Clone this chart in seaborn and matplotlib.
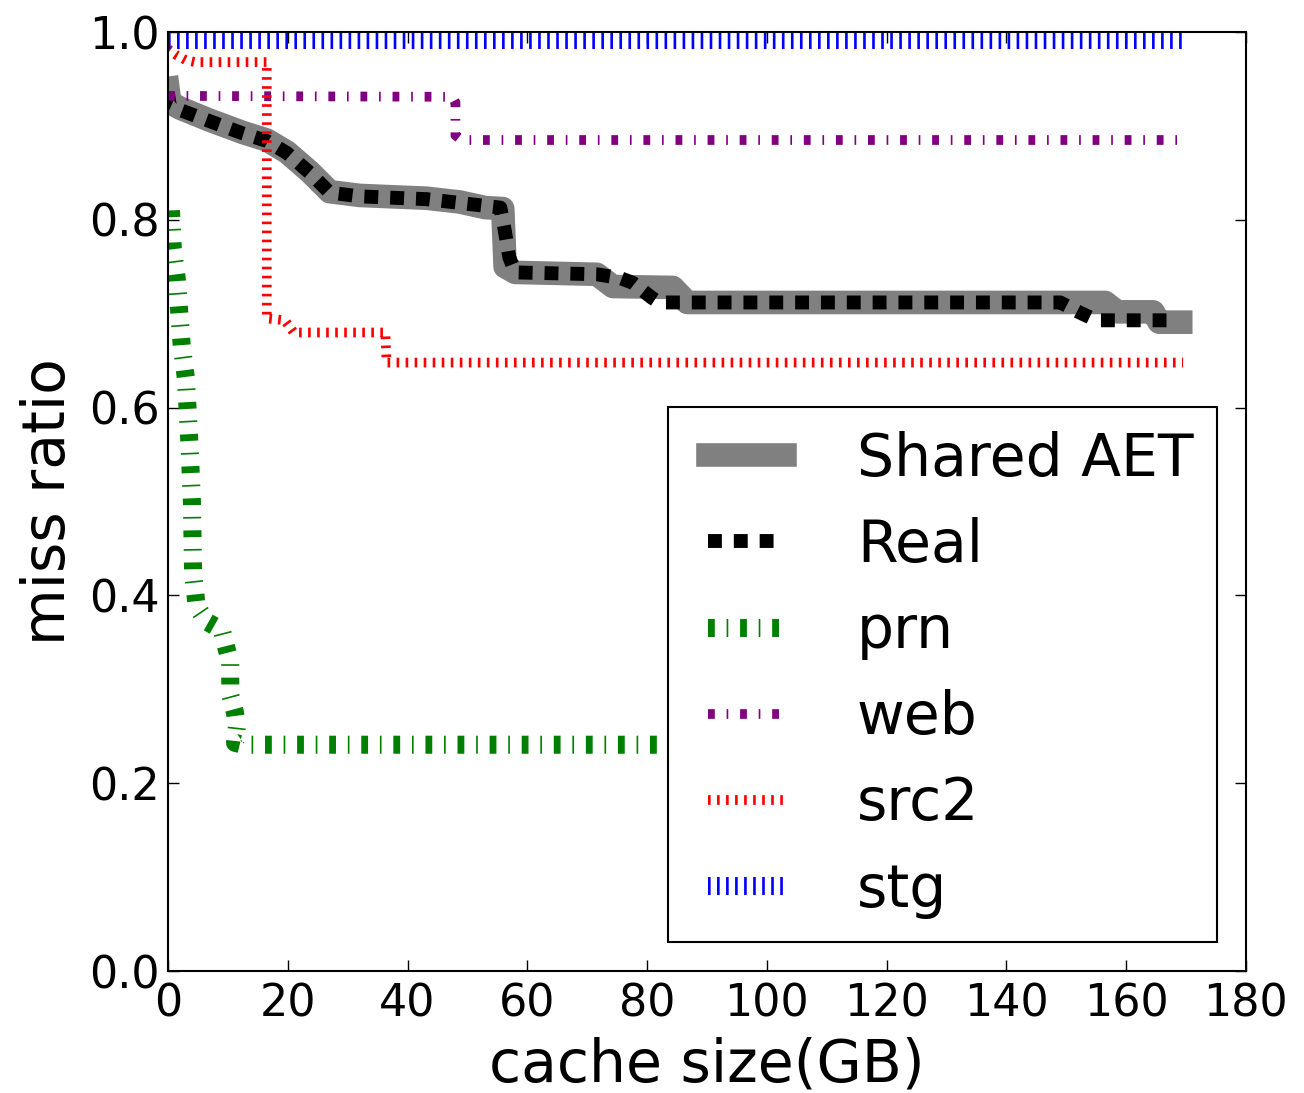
import matplotlib
matplotlib.use("Agg")
import matplotlib.pyplot as plt
import seaborn as sns
import pandas as pd
from matplotlib.lines import Line2D
from matplotlib.legend_handler import HandlerLine2D

# ---- data ----
shared_x = [0, 0.3, 2.0, 7.0, 12.5, 16.5, 19.9, 23.7, 27.0, 32.0, 43.2, 48.7, 53.0, 55.9, 56.3,
            58.0, 71.6, 74.3, 84.3, 86.7, 156.5, 158.5, 164.5, 165.5, 169.1]
shared_y = [0.940, 0.925, 0.919, 0.906, 0.893, 0.885, 0.872, 0.851, 0.830, 0.826, 0.823, 0.819, 0.813, 0.812, 0.750,
            0.744, 0.742, 0.729, 0.728, 0.712, 0.712, 0.702, 0.702, 0.691, 0.691]

real_x = [0, 0.3, 2, 7, 12.5, 16.5, 19.9, 23.7, 27, 32, 43.2, 48.7, 55.5, 56.2, 57, 58,
          71.6, 75.5, 77.6, 80.8, 82, 149, 152, 155, 168]
real_y = [0.935, 0.922, 0.917, 0.905, 0.892, 0.884, 0.871, 0.850, 0.829, 0.825, 0.822, 0.818, 0.813, 0.790, 0.760, 0.744,
          0.742, 0.738, 0.733, 0.717, 0.712, 0.712, 0.702, 0.693, 0.693]

prn_x = [0.5, 0.8, 1.5, 1.9, 2.3, 3.0, 3.6, 4.0, 4.2, 4.8, 6.5, 9.0, 10.4, 10.4, 11.2, 11.5, 11.2, 12.5, 170]
prn_y = [0.810, 0.770, 0.736, 0.700, 0.666, 0.631, 0.560, 0.500, 0.424, 0.388, 0.372, 0.363, 0.328, 0.294, 0.275,
         0.260, 0.243, 0.241, 0.241]

web_x = [0, 47.5, 48, 48, 49, 168.5]
web_y = [0.932, 0.931, 0.925, 0.890, 0.885, 0.885]

src2_x = [0, 1.5, 3, 4.5, 16.5, 16.5, 19.5, 21, 36.3, 36.5, 169.5]
src2_y = [0.982, 0.975, 0.970, 0.968, 0.968, 0.695, 0.693, 0.680, 0.680, 0.648, 0.648]

stg_x = [0, 169.5]
stg_y = [0.991, 0.991]

labels = ["Shared AET", "Real", "prn", "web", "src2", "stg"]
xticks = [0, 20, 40, 60, 80, 100, 120, 140, 160, 180]
yticks = [0.0, 0.2, 0.4, 0.6, 0.8, 1.0]

sns.set_theme(style="white")
plt.rcParams["font.family"] = ["DejaVu Sans"]
plt.rcParams["lines.scale_dashes"] = False
for k in ["text.color", "axes.labelcolor", "xtick.color", "ytick.color", "axes.edgecolor"]:
    plt.rcParams[k] = "black"

fig = plt.figure(figsize=(13.04, 10.93), dpi=100)
ax = fig.add_axes([0.1288, 0.1116, 0.9555 - 0.1288, 0.9707 - 0.1116])

series = [
    (shared_x, shared_y, dict(color="#808080", linewidth=17, linestyle="-",
                              solid_capstyle="projecting", solid_joinstyle="round")),
    (real_x, real_y, dict(color="black", linewidth=10, linestyle=(0, (10, 8.6)),
                          dash_capstyle="butt")),
    (prn_x, prn_y, dict(color="#008000", linewidth=13, linestyle=(0, (4.9, 8.5, 1.2, 8.5)),
                        dash_capstyle="butt")),
    (web_x, web_y, dict(color="#800080", linewidth=7, linestyle=(0, (4.9, 8.5, 1.2, 8.5)),
                        dash_capstyle="butt")),
    (src2_x, src2_y, dict(color="#ff0000", linewidth=7, linestyle=(0, (1.9, 4.6)),
                          dash_capstyle="butt")),
    (stg_x, stg_y, dict(color="#0000ff", linewidth=13, linestyle=(0, (1.9, 4.6)),
                        dash_capstyle="butt")),
]

for (xs, ys, kw), lab in zip(series, labels):
    df = pd.DataFrame({"x": xs, "y": ys})
    sns.lineplot(data=df, x="x", y="y", ax=ax, sort=False, estimator=None,
                 label=lab, **kw)

ax.set_xlim(0, 180)
ax.set_ylim(0, 1.0)
ax.set_xticks(xticks)
ax.set_yticks(yticks)
ax.set_xticklabels([str(t) for t in xticks])
ax.set_yticklabels([f"{t:.1f}" for t in yticks])
ax.tick_params(axis="both", which="major", direction="in", length=8, width=1,
               labelsize=32, top=True, right=True, bottom=True, left=True,
               color="black", labelcolor="black")
ax.tick_params(axis="x", pad=8)
ax.tick_params(axis="y", pad=6)
for sp in ax.spines.values():
    sp.set_visible(True)
    sp.set_color("black")
    sp.set_linewidth(1.5)

ax.set_xlabel("cache size(GB)", fontsize=42, labelpad=8, color="black")
ax.set_ylabel("miss ratio", fontsize=42, labelpad=8.5, color="black")
ax.grid(False)

leg = ax.legend(loc="lower right", fontsize=42, handlelength=1.6, handletextpad=1.23,
                borderpad=0.4, labelspacing=0.5, borderaxespad=0.5, frameon=True,
                fancybox=False, shadow=False, framealpha=1.0,
                handler_map={Line2D: HandlerLine2D(xpad=0.28)})
leg.get_frame().set_edgecolor("black")
leg.get_frame().set_linewidth(1.5)
for t in leg.get_texts():
    t.set_color("black")

fig.savefig("out.png", dpi=100, facecolor="white")
